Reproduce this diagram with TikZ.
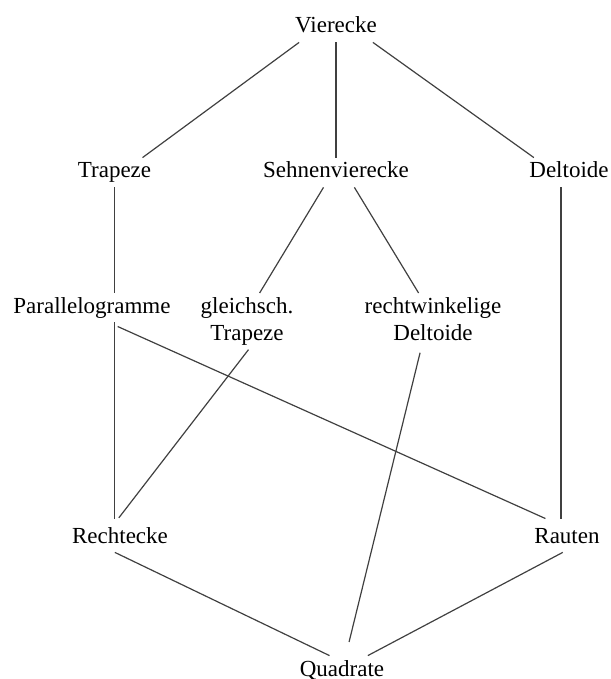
\documentclass[tikz,border=0pt]{standalone}
\usepackage{fontspec}
\setmainfont{Liberation Serif}
\begin{document}
\begin{tikzpicture}[x=0.5pt, y=-0.5pt,
  lbl/.style={inner sep=2pt, font=\fontsize{11.5}{13.5}\selectfont},
  one/.style={lbl, anchor=base, text height=8pt, text depth=2.5pt},
  two/.style={lbl, anchor=north, align=center},
  link/.style={draw=black!75, line width=0.6pt}]
% Canvas
\useasboundingbox (0,0) rectangle (610,679);

% Place the classes
\node[one] (Vierecke) at (336,33) {Vierecke};
\node[one] (Trapeze) at (114.5,178) {Trapeze};
\node[one] (Sehnen) at (336,178) {Sehnenvierecke};
\node[one] (Deltoide) at (569,178) {Deltoide};
\node[one] (Parallelogramme) at (92,313) {Parallelogramme};
\node[two] (gTrapeze) at (247,293) {gleichsch.\\Trapeze};
\node[two] (rDeltoide) at (433,293) {rechtwinkelige\\Deltoide};
\node[one] (Rechtecke) at (120,543) {Rechtecke};
\node[one] (Rauten) at (567,543) {Rauten};
\node[one] (Quadrate) at (342,676) {Quadrate};

% Draw the lines
\draw[link] (Vierecke.202) -- (Trapeze.28);
\draw[link] (Vierecke.south) -- (Sehnen.north);
\draw[link] (Vierecke.338) -- (Deltoide.157);
\draw[link] (Trapeze.south) -- (Trapeze.south |- Parallelogramme.north);
\draw[link] (Sehnen.230) -- (gTrapeze.66);
\draw[link] (Sehnen.321) -- (rDeltoide.119.5);
\draw[link, shorten >=2pt] ([xshift=-4pt]Deltoide.south) -- ([xshift=-4pt]Deltoide.south |- Rauten.north);
\draw[link, shorten >=2pt] (Trapeze.south |- Parallelogramme.south) -- (Trapeze.south |- Rechtecke.north);
\draw[link, shorten <=5pt, shorten >=5pt] (Parallelogramme.318) -- (Rauten.130);
\draw[link, shorten >=3pt] (gTrapeze.273) -- (Rechtecke.108);
\draw[link, shorten <=4pt, shorten >=7pt] (rDeltoide.247) -- (Quadrate.76);
\draw[link] (Rechtecke.251) -- (Quadrate.130);
\draw[link] (Rauten.254) -- (Quadrate.30);
\end{tikzpicture}
\end{document}
